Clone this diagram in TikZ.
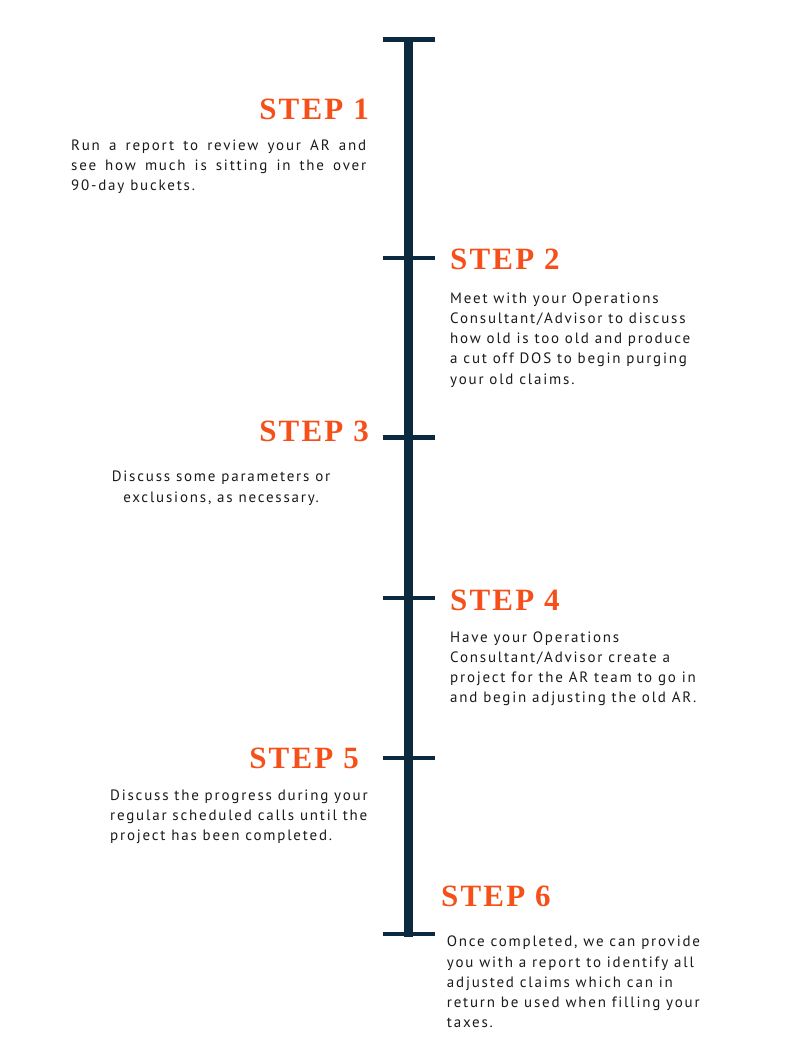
\documentclass[tikz,border=0pt]{standalone}
\usepackage{fontspec}
\setmainfont{PT Sans}
\newfontfamily\headfont{Liberation Serif}[LetterSpace=7]
\newfontfamily\bodyfont{PT Sans}[LetterSpace=12,Ligatures=NoCommon]
\definecolor{navy}{HTML}{0B2A40}
\definecolor{stepor}{HTML}{F6501A}
\definecolor{bodytxt}{HTML}{1A1A1A}
\newcommand{\st}{\rule{0pt}{12pt}}
\begin{document}
\begin{tikzpicture}[x=1pt,y=-1pt,
  spine/.style={draw=navy, line width=9pt},
  tick/.style={draw=navy, line width=4.5pt},
  head/.style={font=\headfont\bfseries\fontsize{31}{31}\selectfont, text=stepor, inner sep=0pt},
  body/.style={font=\bodyfont\fontsize{15}{20.2}\selectfont, text=bodytxt, inner sep=0pt}]
\useasboundingbox (0,0) rectangle (800,1058);
% spine
\coordinate (top) at (408.5,37);
\coordinate (bot) at (408.5,936.5);
\draw[spine] (top) -- (bot);
% ticks
\foreach \n/\y in {1/39.5,2/258,3/437.5,4/598,5/758,6/934}{
  \coordinate (t\n) at (408.5,\y);
  \draw[tick] ([xshift=-26pt]t\n) -- ([xshift=26pt]t\n);
}
% headings
\node[head, anchor=base east] (h1) at (369,119) {STEP 1};
\node[head, anchor=base west] (h2) at (450,269) {STEP 2};
\node[head, anchor=base east] (h3) at (369,441) {STEP 3};
\node[head, anchor=base west] (h4) at (450,610) {STEP 4};
\node[head, anchor=base east] (h5) at (359,768) {STEP 5};
\node[head, anchor=base west] (h6) at (441,906) {STEP 6};
% bodies
\node[body, anchor=north west, align=left] (b1) at (71,138) {\st\makebox[295pt][s]{Run a report to review your AR and}\\\makebox[295pt][s]{see how much is sitting in the over}\\90-day buckets.};
\node[body, anchor=north west, align=left] (b2) at (450,291) {\st Meet with your Operations\\Consultant/Advisor to discuss\\how old is too old and produce\\a cut off DOS to begin purging\\your old claims.};
\node[body, anchor=north, align=center] (b3) at (221,469.7) {\st Discuss some parameters or\\exclusions, as necessary.};
\node[body, anchor=north west, align=left] (b4) at (450,630) {\st Have your Operations\\Consultant/Advisor create a\\project for the AR team to go in\\and begin adjusting the old AR.};
\node[body, anchor=north west, align=left] (b5) at (110,788) {\st Discuss the progress during your\\regular scheduled calls until the\\project has been completed.};
\node[body, anchor=north west, align=left] (b6) at (446.7,934.7) {\st Once completed, we can provide\\you with a report to identify all\\adjusted claims which can in\\return be used when filling your\\taxes.};
\end{tikzpicture}
\end{document}
